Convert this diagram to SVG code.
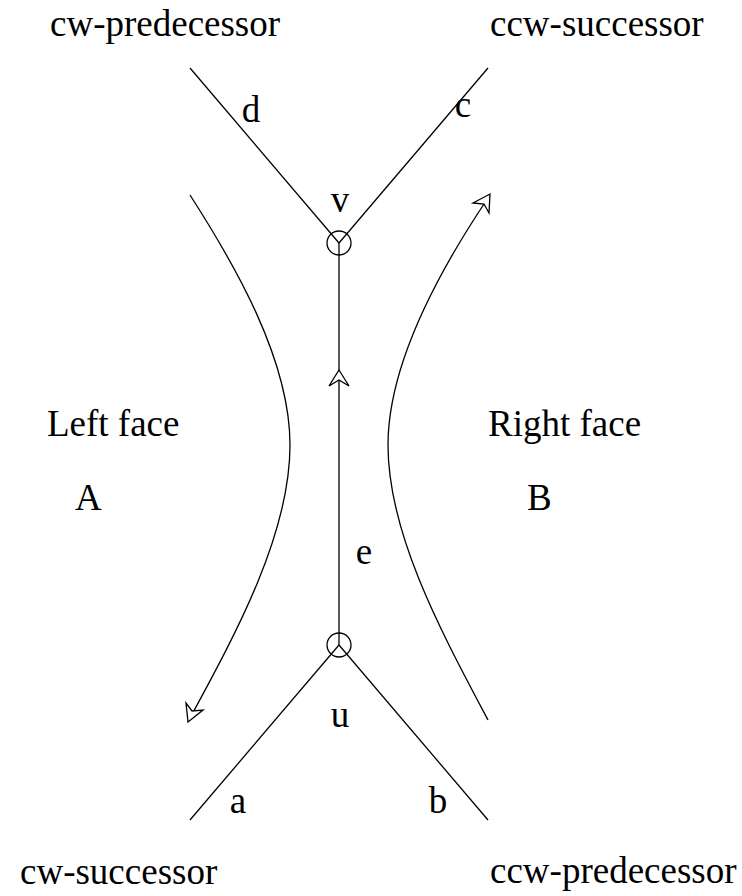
<svg xmlns="http://www.w3.org/2000/svg" width="742" height="896" viewBox="0 0 742 896">
<style>
text{font-family:"Liberation Serif","Times New Roman",serif;font-size:37px;fill:#000}
.ln{fill:none;stroke:#000;stroke-width:1.3}
.ah{fill:#fff;stroke:#000;stroke-width:1.3;stroke-linejoin:miter}
</style>
<rect width="742" height="896" fill="#fff"/>
<g id="connectors">
<line class="ln" x1="190" y1="68" x2="339" y2="243"/>
<line class="ln" x1="488" y1="68" x2="339" y2="243"/>
<line class="ln" x1="339" y1="243" x2="339" y2="645"/>
<line class="ln" x1="339" y1="645" x2="190" y2="820"/>
<line class="ln" x1="339" y1="645" x2="488" y2="820"/>
<path class="ah" d="M339,370 L349,386 L339,380 L329,386 Z"/>
<path class="ln" d="M190,195 C235,265 290,360 290,445 C290,535 235,635 190,718"/>
<path class="ah" d="M188,722 L186,703 L192,711 L203,710 Z"/>
<path class="ln" d="M488,720 C443,635 388,535 388,445 C388,360 443,265 488,198"/>
<path class="ah" d="M490,194 L489,213 L484,204 L473,203 Z"/>
</g>
<g id="v"><circle class="ln" cx="339" cy="243" r="12"/><text x="340" y="212" text-anchor="middle">v</text></g>
<g id="u"><circle class="ln" cx="339" cy="645" r="12"/><text x="340" y="727" text-anchor="middle">u</text></g>
<g id="labels">
<text x="50" y="36">cw-predecessor</text>
<text x="490" y="36">ccw-successor</text>
<text x="20" y="884">cw-successor</text>
<text x="490" y="883">ccw-predecessor</text>
<text x="47" y="436">Left face</text>
<text x="488" y="436">Right face</text>
<text x="75" y="510">A</text>
<text x="527" y="510">B</text>
<text x="251" y="122" text-anchor="middle">d</text>
<text x="463" y="117" text-anchor="middle">c</text>
<text x="364" y="564" text-anchor="middle">e</text>
<text x="238" y="813" text-anchor="middle">a</text>
<text x="438" y="813" text-anchor="middle">b</text>
</g>
</svg>
